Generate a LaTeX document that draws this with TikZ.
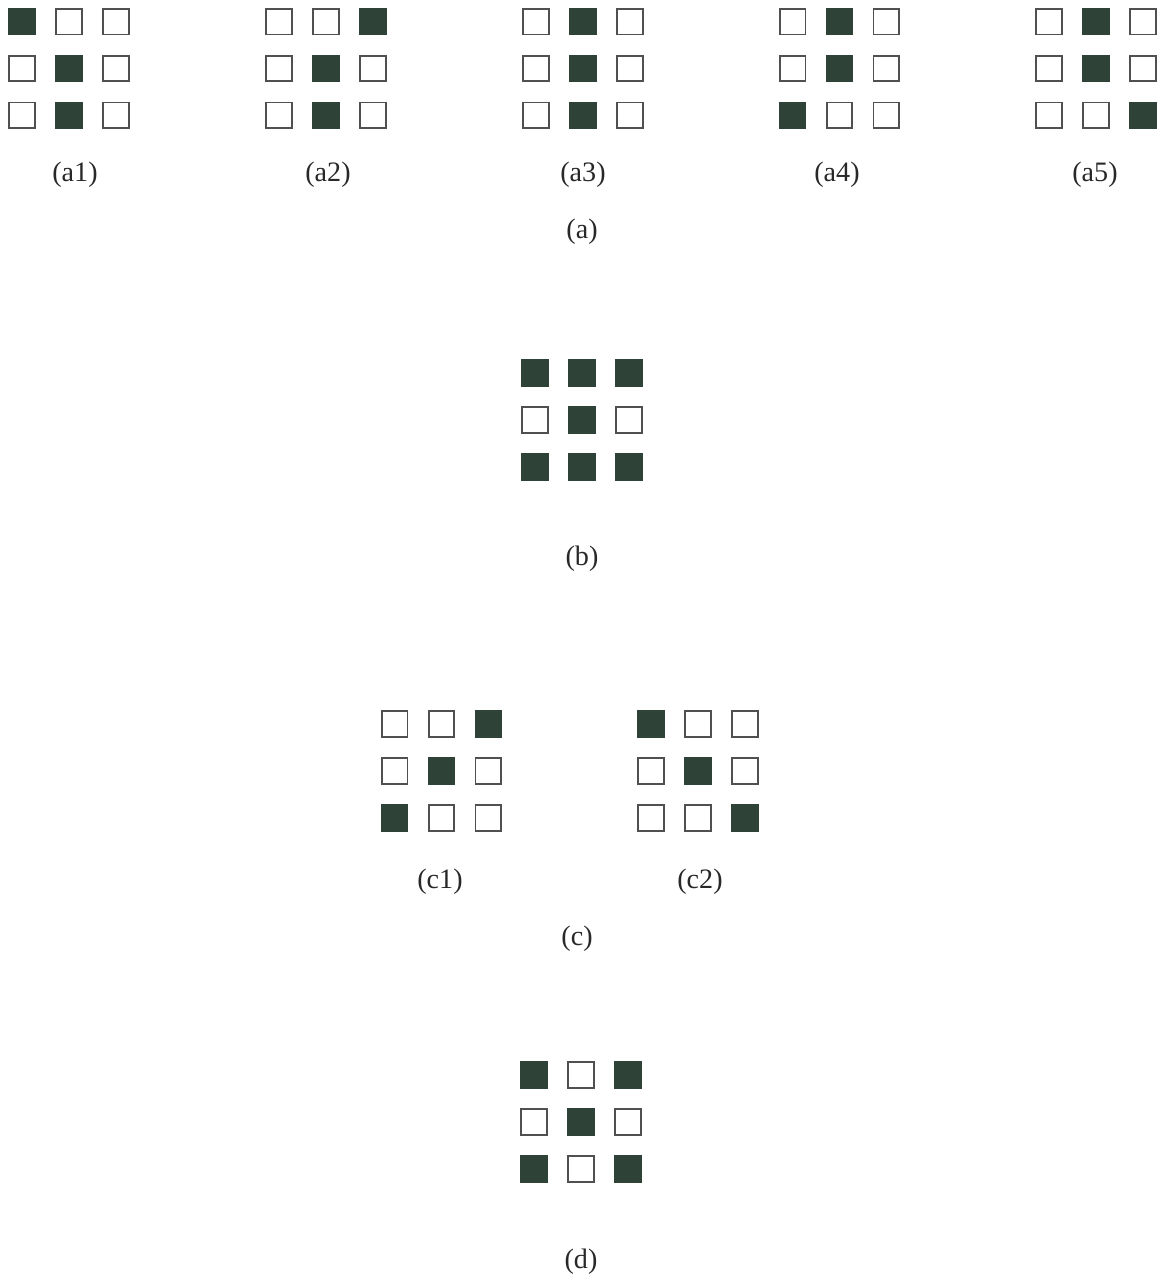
\documentclass[tikz,border=0pt]{standalone}
\usepackage{fontspec}
\setmainfont{Liberation Serif}
\usetikzlibrary{positioning}
\usepackage{xcolor}
\definecolor{cellDark}{RGB}{46,66,56}
\definecolor{cellEdge}{RGB}{80,80,80}
\definecolor{capGray}{RGB}{40,40,40}
\tikzset{
    celloff/.style={
        draw=cellEdge,line width=1.4pt,fill=white,
        minimum size=0.64cm,inner sep=0pt
    },
    cellon/.style={
        celloff,draw=cellDark,fill=cellDark
    },
    caption/.style={
        font=\fontsize{20}{22}\selectfont,text=capGray,inner sep=0pt
    }
}
% 3x3 grid: name, centre x, centre y, nine bits row by row
\newcommand{\cellgrid}[4]{%
  \foreach \bit [count=\k from 0] in {#4}{%
    \pgfmathtruncatemacro{\gr}{\k/3}%
    \pgfmathtruncatemacro{\gc}{mod(\k,3)}%
    \ifnum\bit=1 \def\cellkind{cellon}\else\def\cellkind{celloff}\fi
    \node[\cellkind] (#1-\gr\gc) at (#2+\gc*46.8-46.8,#3+\gr*46.8-46.8) {};
  }%
}

\begin{document}
\begin{tikzpicture}[x=0.025cm,y=-0.025cm]
\useasboundingbox (0,0) rectangle (1160,1282);

% (a)
\cellgrid{a1}{69}{68.5}{1,0,0,0,1,0,0,1,0}
\cellgrid{a2}{326}{68.5}{0,0,1,0,1,0,0,1,0}
\cellgrid{a3}{583}{68.5}{0,1,0,0,1,0,0,1,0}
\cellgrid{a4}{839.5}{68.5}{0,1,0,0,1,0,1,0,0}
\cellgrid{a5}{1096}{68.5}{0,1,0,0,1,0,0,0,1}

\node[caption] (capa1) at (75,175) {(a1)};
\node[caption] (capa2) at (328,175) {(a2)};
\node[caption] (capa3) at (583,175) {(a3)};
\node[caption] (capa4) at (837,175) {(a4)};
\node[caption] (capa5) at (1095,175) {(a5)};
\node[caption] (capa) at (582,232) {(a)};

% (b)
\cellgrid{b}{582}{420}{1,1,1,0,1,0,1,1,1}
\node[caption] (capb) at (582,559) {(b)};

% (c)
\cellgrid{c1}{441.5}{771}{0,0,1,0,1,0,1,0,0}
\cellgrid{c2}{698}{771}{1,0,0,0,1,0,0,0,1}
\node[caption] (capc1) at (440,882) {(c1)};
\node[caption] (capc2) at (700,882) {(c2)};
\node[caption] (capc) at (577,939) {(c)};

% (d)
\cellgrid{d}{581}{1122}{1,0,1,0,1,0,1,0,1}
\node[caption] (capd) at (581,1262) {(d)};

\end{tikzpicture}
\end{document}
